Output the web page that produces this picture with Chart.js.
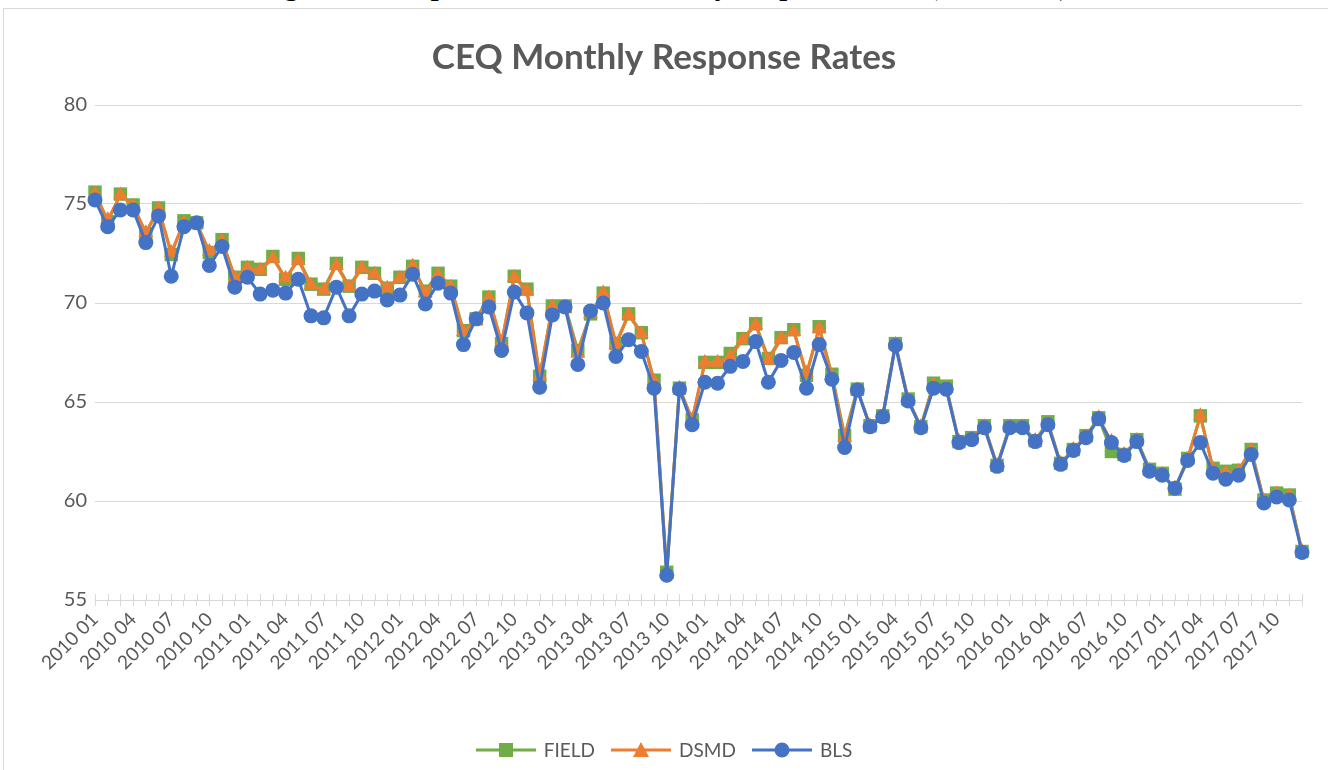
<!DOCTYPE html>
<html>
<head>
<meta charset="utf-8">
<script src="https://cdn.jsdelivr.net/npm/chart.js@4.4.0/dist/chart.umd.min.js"></script>
<style>
  body { margin: 0; background: #fff; width: 1328px; height: 770px; overflow: hidden; position: relative; font-family: Lato, "Open Sans", sans-serif; }
  #caption { position: absolute; left: 0; top: -30px; width: 1328px; text-align: center; font: bold 28px "Liberation Serif", "Times New Roman", serif; color: #000; z-index: 0; white-space: nowrap; }
  #box { position: absolute; left: 3px; top: 8px; width: 1340px; height: 800px; border: 1px solid #d9d9d9; box-sizing: border-box; background: #fff; z-index: 1; }
  #wrap { position: absolute; left: 0; top: 0; width: 1328px; height: 770px; z-index: 2; }
  #legend { position: absolute; left: 0; top: 738px; width: 1328px; display: flex; justify-content: center; align-items: center; z-index: 3; font-size: 19px; color: #595959; }
  #legend .item { display: flex; align-items: center; margin: 0 8px; }
  #legend svg { margin-right: 8px; }
</style>
</head>
<body>
<div id="caption">Figure 1. Comparison of CEQ Monthly Response Rates (2010-2017)</div>
<div id="box"></div>
<div id="wrap"><canvas id="respChart" width="1328" height="770"></canvas></div>
<div id="legend">
  <div class="item"><svg width="60" height="18"><line x1="0" y1="9" x2="60" y2="9" stroke="#70AD47" stroke-width="3"/><rect x="23" y="2" width="14" height="14" fill="#70AD47"/></svg>FIELD</div>
  <div class="item"><svg width="60" height="18"><line x1="0" y1="9" x2="60" y2="9" stroke="#ED7D31" stroke-width="3"/><polygon points="30,1 38,16 22,16" fill="#ED7D31"/></svg>DSMD</div>
  <div class="item"><svg width="60" height="18"><line x1="0" y1="9" x2="60" y2="9" stroke="#4472C4" stroke-width="3"/><circle cx="30" cy="9" r="7.5" fill="#4472C4"/></svg>BLS</div>
</div>
<script>
// Datos del grafico
const years = [2010, 2011, 2012, 2013, 2014, 2015, 2016, 2017];
const months = ["01", "02", "03", "04", "05", "06", "07", "08", "09", "10", "11", "12"];
const yTicks = [55, 60, 65, 70, 75, 80];

const field = [
  75.6, 74.1, 75.5, 74.95, 73.5, 74.8, 72.45, 74.15, 74.05, 72.55, 73.2, 71.3,
  71.8, 71.7, 72.35, 71.2, 72.25, 70.95, 70.7, 72.0, 70.85, 71.8, 71.5, 70.75,
  71.3, 71.85, 70.6, 71.5, 70.85, 68.6, 69.2, 70.3, 67.95, 71.35, 70.7, 66.3,
  69.85, 69.85, 67.6, 69.45, 70.5, 67.95, 69.45, 68.5, 66.1, 56.4, 65.7, 64.1,
  67.0, 67.0, 67.45, 68.2, 68.95, 67.2, 68.25, 68.65, 66.35, 68.8, 66.4, 63.3,
  65.65, 63.8, 64.3, 67.95, 65.15, 63.75, 65.95, 65.8, 63.0, 63.2, 63.8, 61.8,
  63.8, 63.8, 63.05, 64.0, 61.9, 62.6, 63.3, 64.2, 62.5, 62.35, 63.1, 61.6,
  61.4, 60.6, 62.15, 64.3, 61.65, 61.5, 61.55, 62.6, 60.05, 60.4, 60.3, 57.45
];
const dsmd = [
  75.5, 74.2, 75.45, 74.9, 73.55, 74.75, 72.55, 74.05, 74.0, 72.6, 73.1, 71.25,
  71.75, 71.65, 72.25, 71.25, 72.15, 70.9, 70.65, 71.9, 70.8, 71.75, 71.45, 70.75,
  71.25, 71.85, 70.5, 71.4, 70.8, 68.55, 69.1, 70.25, 68.0, 71.3, 70.6, 66.3,
  69.8, 69.7, 67.45, 69.45, 70.5, 67.9, 69.4, 68.45, 66.05, 56.35, 65.7, 64.1,
  67.0, 67.0, 67.3, 68.15, 68.9, 67.1, 68.2, 68.55, 66.45, 68.7, 66.3, 63.2,
  65.6, 63.8, 64.25, 67.9, 65.1, 63.75, 65.85, 65.7, 63.0, 63.15, 63.75, 61.8,
  63.75, 63.75, 63.05, 63.9, 61.9, 62.6, 63.25, 64.2, 63.0, 62.35, 63.05, 61.55,
  61.35, 60.65, 62.1, 64.3, 61.6, 61.4, 61.5, 62.55, 60.0, 60.35, 60.25, 57.45
];
const bls = [
  75.2, 73.85, 74.7, 74.7, 73.05, 74.4, 71.35, 73.85, 74.05, 71.9, 72.85, 70.8,
  71.3, 70.45, 70.65, 70.5, 71.2, 69.35, 69.25, 70.8, 69.35, 70.45, 70.6, 70.15,
  70.4, 71.45, 69.95, 71.0, 70.5, 67.9, 69.2, 69.8, 67.6, 70.55, 69.5, 65.75,
  69.4, 69.8, 66.9, 69.6, 70.0, 67.3, 68.15, 67.55, 65.7, 56.25, 65.65, 63.85,
  66.0, 65.95, 66.8, 67.05, 68.05, 66.0, 67.1, 67.5, 65.7, 67.9, 66.15, 62.7,
  65.6, 63.75, 64.25, 67.85, 65.05, 63.7, 65.7, 65.65, 62.95, 63.1, 63.7, 61.75,
  63.7, 63.7, 63.0, 63.85, 61.85, 62.55, 63.2, 64.15, 62.95, 62.3, 63.0, 61.5,
  61.3, 60.65, 62.05, 62.95, 61.4, 61.1, 61.3, 62.35, 59.9, 60.2, 60.05, 57.4
];

const labels = [];
years.forEach((y) => months.forEach((m) => labels.push(`${y} ${m}`)));

const gris = "#595959";
const lineaGris = "#d9d9d9";

// marcas del eje que cruzan hacia dentro (como en Excel)
const marcasInternas = {
  id: "marcasInternas",
  beforeDatasetsDraw(chart) {
    const sx = chart.scales.x;
    const ctx = chart.ctx;
    const base = chart.chartArea.bottom;
    ctx.save();
    ctx.strokeStyle = lineaGris;
    ctx.lineWidth = 1;
    ctx.beginPath();
    for (let i = 0; i < labels.length; i++) {
      const px = Math.round(sx.getPixelForValue(i)) + 0.5;
      ctx.moveTo(px, base - 6);
      ctx.lineTo(px, base);
    }
    ctx.stroke();
    ctx.restore();
  },
};

const ctx = document.getElementById("respChart");
const chart = new Chart(ctx, {
  type: "line",
  data: {
    labels: labels,
    datasets: [
      {
        label: "FIELD",
        data: field,
        borderColor: "#70AD47",
        backgroundColor: "#70AD47",
        pointStyle: "rect",
        pointRadius: 9.5,
        order: 2,
      },
      {
        label: "DSMD",
        data: dsmd,
        borderColor: "#ED7D31",
        backgroundColor: "#ED7D31",
        pointStyle: "triangle",
        pointRadius: 8.5,
        order: 1,
      },
      {
        label: "BLS",
        data: bls,
        borderColor: "#4472C4",
        backgroundColor: "#4472C4",
        pointStyle: "circle",
        pointRadius: 7.5,
        order: 0,
      },
    ],
  },
  options: {
    responsive: false,
    animation: false,
    layout: { padding: { left: 0, right: 0, top: 0, bottom: 80 } },
    datasets: {
      line: { borderWidth: 3, tension: 0, pointBorderWidth: 0, pointHoverRadius: 8, clip: false },
    },
    plugins: {
      legend: { display: false },
      tooltip: { enabled: false },
      title: {
        display: true,
        text: "CEQ Monthly Response Rates",
        color: gris,
        font: { family: "Lato", size: 35, weight: "bold" },
        padding: { top: 37, bottom: 26 },
      },
    },
    scales: {
      x: {
        offset: false,
        grid: { drawOnChartArea: false, drawTicks: true, tickLength: 6, color: lineaGris },
        border: { color: lineaGris },
        ticks: {
          autoSkip: false,
          maxRotation: 45,
          minRotation: 45,
          padding: 2,
          color: gris,
          font: { family: "Lato", size: 19 },
          callback: (v, i) => (i % 3 === 0 ? labels[i] : ""),
        },
        afterFit: (s) => { s.height = 90; },
      },
      y: {
        min: yTicks[0],
        max: yTicks[yTicks.length - 1],
        ticks: { stepSize: 5, padding: 8, color: gris, font: { family: "Lato", size: 20 } },
        grid: { color: lineaGris, drawTicks: false },
        border: { display: false },
        afterFit: (s) => { s.width = 95; },
      },
      // eje vacio a la derecha, solo para dejar el margen y centrar el titulo
      margen: {
        position: "right",
        min: yTicks[0],
        max: yTicks[yTicks.length - 1],
        ticks: { display: false },
        grid: { display: false },
        border: { display: false },
        afterFit: (s) => { s.width = 26; },
      },
    },
  },
  plugins: [marcasInternas],
});
</script>
</body>
</html>
